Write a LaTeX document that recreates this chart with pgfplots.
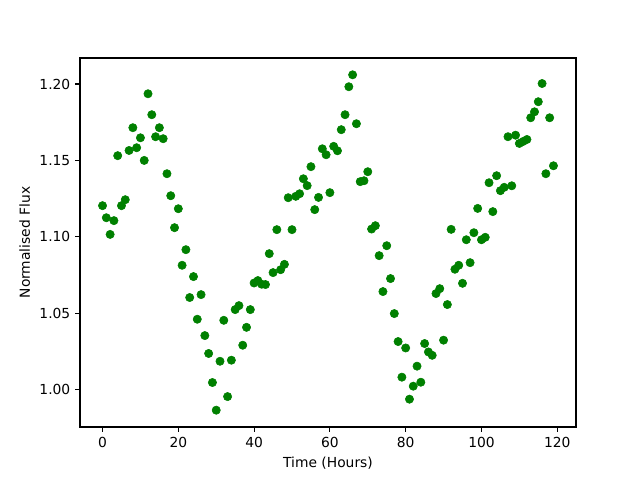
\documentclass[border=0pt]{standalone}
\usepackage{fontspec}
\setmainfont{DejaVu Sans}
\usepackage{pgfplots}
\pgfplotsset{compat=1.18}
\definecolor{mplgreen}{RGB}{0,128,0}
\begin{document}
\begin{tikzpicture}
\begin{axis}[
  scale only axis,
  width=4.96in, height=3.69in,
  xmin=-5.95, xmax=124.95,
  ymin=0.9756, ymax=1.2170,
  xtick={0,20,40,60,80,100,120},
  ytick={1.00,1.05,1.10,1.15,1.20},
  yticklabel style={/pgf/number format/fixed,/pgf/number format/fixed zerofill,/pgf/number format/precision=2},
  /pgf/number format/assume math mode=true,
  tick align=outside,
  major tick length=3.5pt,
  every tick/.style={black, line width=0.8pt},
  axis line style={line width=0.8pt},
  xtick pos=bottom, ytick pos=left,
  tick label style={font=\fontsize{10}{12}\selectfont},
  label style={font=\fontsize{10}{12}\selectfont},
  xlabel={Time (Hours)},
  ylabel={Normalised Flux},
  scaled y ticks=false,
]
\addplot[only marks, mark=*, mark size=3pt, color=mplgreen, mark options={draw=mplgreen, fill=mplgreen}] coordinates {
(0,1.1204) (1,1.1125) (2,1.1016) (3,1.1106) (4,1.1531) (5,1.1204) (6,1.1243) (7,1.1565) (8,1.1714) (9,1.1583)
(10,1.1648) (11,1.1500) (12,1.1936) (13,1.1799) (14,1.1655) (15,1.1714) (16,1.1642) (17,1.1413) (18,1.1269) (19,1.1060)
(20,1.1184) (21,1.0814) (22,1.0916) (23,1.0603) (24,1.0740) (25,1.0461) (26,1.0622) (27,1.0354) (28,1.0237) (29,1.0047)
(30,0.9866) (31,1.0186) (32,1.0454) (33,0.9955) (34,1.0193) (35,1.0524) (36,1.0550) (37,1.0291) (38,1.0408) (39,1.0524)
(40,1.0698) (41,1.0714) (42,1.0690) (43,1.0688) (44,1.0890) (45,1.0766) (46,1.1047) (47,1.0785) (48,1.0820) (49,1.1256)
(50,1.1047) (51,1.1265) (52,1.1282) (53,1.1380) (54,1.1335) (55,1.1459) (56,1.1178) (57,1.1258) (58,1.1576) (59,1.1537)
(60,1.1289) (61,1.1592) (62,1.1563) (63,1.1701) (64,1.1799) (65,1.1982) (66,1.2060) (67,1.1740) (68,1.1361) (69,1.1367)
(70,1.1426) (71,1.1051) (72,1.1073) (73,1.0877) (74,1.0642) (75,1.0942) (76,1.0727) (77,1.0498) (78,1.0315) (79,1.0082)
(80,1.0273) (81,0.9938) (82,1.0023) (83,1.0154) (84,1.0049) (85,1.0302) (86,1.0247) (87,1.0225) (88,1.0629) (89,1.0661)
(90,1.0324) (91,1.0557) (92,1.1049) (93,1.0788) (94,1.0814) (95,1.0696) (96,1.0981) (97,1.0831) (98,1.1027) (99,1.1186)
(100,1.0981) (101,1.0997) (102,1.1354) (103,1.1165) (104,1.1400) (105,1.1302) (106,1.1324) (107,1.1655) (108,1.1334) (109,1.1665)
(110,1.1611) (111,1.1624) (112,1.1637) (113,1.1779) (114,1.1818) (115,1.1884) (116,1.2003) (117,1.1413) (118,1.1779) (119,1.1465)
};
\coordinate (sw) at (rel axis cs:0,0);
\coordinate (ne) at (rel axis cs:1,1);
\end{axis}
\pgfresetboundingbox
\path ([shift={(-0.8in,-0.53in)}]sw) rectangle ([shift={(0.64in,0.58in)}]ne);
\end{tikzpicture}
\end{document}
